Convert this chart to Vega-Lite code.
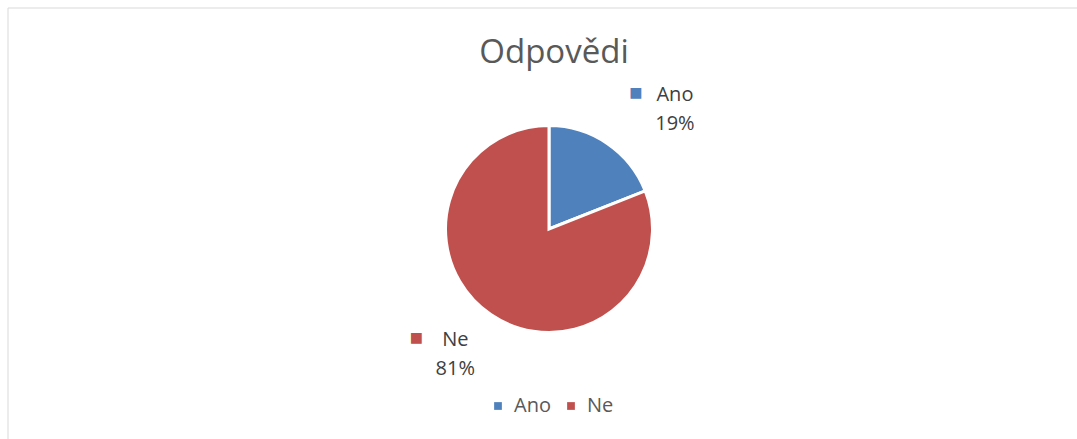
{
  "$schema": "https://vega.github.io/schema/vega-lite/v6.json",
  "autosize": {"type": "fit", "contains": "padding"},
  "width": 1077,
  "height": 439,
  "padding": {"left": 7, "top": 7, "right": -14, "bottom": -12},
  "background": "white",
  "title": {
    "text": "Odpovědi",
    "font": "Open Sans",
    "fontSize": 33,
    "fontWeight": "normal",
    "color": "#595959",
    "anchor": "middle",
    "baseline": "alphabetic",
    "offset": -88,
    "dx": 5
  },
  "data": {
    "values": [
      {"odpoved": "Ano", "podil": 19, "procento": "19%", "stitek": "Ano\n19%"},
      {"odpoved": "Ne", "podil": 81, "procento": "81%", "stitek": "Ne\n81%"}
    ]
  },
  "layer": [
    {
      "data": {"values": [{"ramecek": 1}]},
      "mark": {"type": "rect", "fill": null, "stroke": "#d9d9d9", "strokeWidth": 1},
      "encoding": {}
    },
    {
      "mark": {"type": "arc", "outerRadius": 103.5, "stroke": "white", "strokeWidth": 3},
      "encoding": {
        "theta": {"field": "podil", "type": "quantitative", "stack": true},
        "color": {
          "field": "odpoved",
          "type": "nominal",
          "scale": {"domain": ["Ano", "Ne"], "range": ["#4f81bd", "#c0504d"]},
          "legend": {"title": null}
        }
      }
    },
    {
      "mark": {"type": "text", "radius": 160, "dx": 36, "dy": 4, "align": "center", "baseline": "alphabetic", "lineBreak": "\n", "lineHeight": 29, "font": "Open Sans", "fontSize": 20, "color": "#404040"},
      "encoding": {
        "theta": {"field": "podil", "type": "quantitative", "stack": true},
        "detail": {"field": "odpoved"},
        "text": {"condition": {"test": "datum.odpoved === 'Ano'", "field": "stitek"}, "value": ""}
      }
    },
    {
      "mark": {"type": "text", "radius": 140, "dx": -15, "dy": 1, "align": "center", "baseline": "alphabetic", "lineBreak": "\n", "lineHeight": 29, "font": "Open Sans", "fontSize": 20, "color": "#404040"},
      "encoding": {
        "theta": {"field": "podil", "type": "quantitative", "stack": true},
        "detail": {"field": "odpoved"},
        "text": {"condition": {"test": "datum.odpoved === 'Ne'", "field": "stitek"}, "value": ""}
      }
    },
    {
      "mark": {"type": "text", "radius": 160, "dx": -3, "dy": -4, "align": "center", "baseline": "middle", "font": "DejaVu Sans", "fontSize": 14, "color": "#4f81bd"},
      "encoding": {
        "theta": {"field": "podil", "type": "quantitative", "stack": true},
        "detail": {"field": "odpoved"},
        "text": {"condition": {"test": "datum.odpoved === 'Ano'", "value": "■"}, "value": ""}
      }
    },
    {
      "mark": {"type": "text", "radius": 140, "dx": -54, "dy": -7, "align": "center", "baseline": "middle", "font": "DejaVu Sans", "fontSize": 14, "color": "#c0504d"},
      "encoding": {
        "theta": {"field": "podil", "type": "quantitative", "stack": true},
        "detail": {"field": "odpoved"},
        "text": {"condition": {"test": "datum.odpoved === 'Ne'", "value": "■"}, "value": ""}
      }
    }
  ],
  "config": {
    "view": {"stroke": null},
    "legend": {
      "orient": "none",
      "legendX": 480,
      "legendY": 388,
      "direction": "horizontal",
      "symbolType": "square",
      "symbolSize": 60,
      "symbolStrokeWidth": 0,
      "labelFont": "Open Sans",
      "labelFontSize": 20,
      "labelColor": "#595959",
      "labelOffset": 6,
      "columnPadding": 10
    }
  }
}
